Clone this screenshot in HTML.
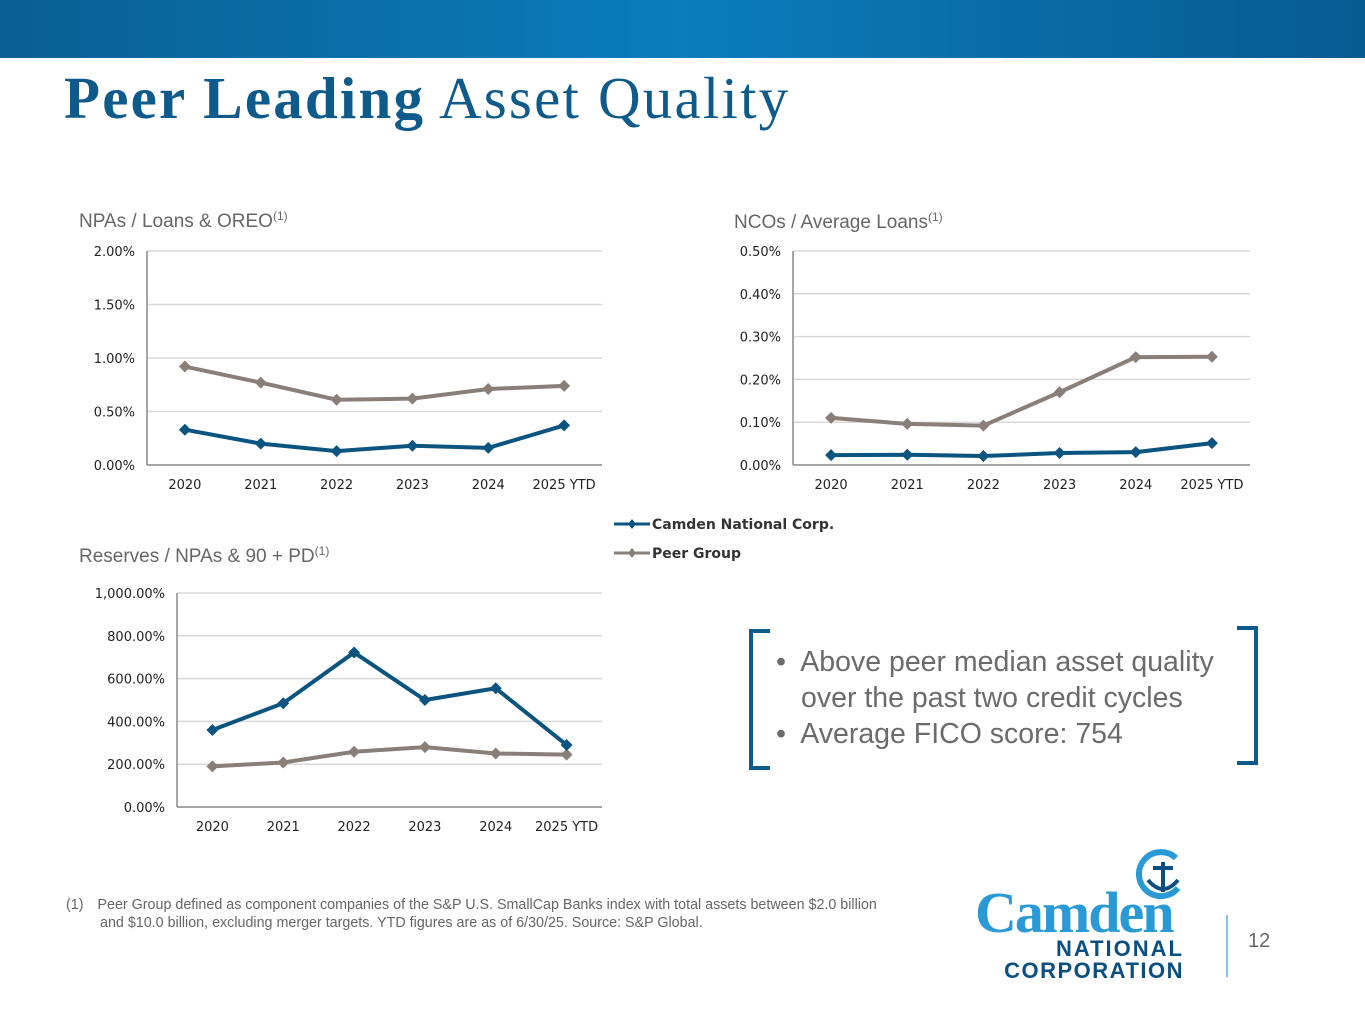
<!DOCTYPE html>
<html><head><meta charset="utf-8">
<style>
body{margin:0;width:1365px;height:1024px;overflow:hidden;background:#fff;font-family:"Liberation Sans",sans-serif;position:relative}
.hdr{position:absolute;left:0;top:0;width:1365px;height:58px;background:linear-gradient(90deg,#0a5f95 0%,#0a7dba 50%,#085a92 100%)}
.title{position:absolute;left:64px;top:64px;font-family:"Liberation Serif",serif;font-size:59px;color:#0e5a8a;white-space:nowrap;letter-spacing:2.2px}
.title b{font-weight:bold}
svg{position:absolute;left:0;top:0}
.bul{position:absolute;left:776px;top:644px;font-size:28.5px;color:#6b6b6b;line-height:36px;white-space:nowrap}
.foot{position:absolute;left:66px;top:896px;font-size:14.3px;color:#666;line-height:18px;white-space:nowrap}
.pg{position:absolute;left:1248px;top:930px;font-size:20px;color:#666}
</style></head><body>
<div class="hdr"></div>
<div class="title"><b>Peer Leading</b> Asset Quality</div>
<svg id="s" width="1365" height="1024"></svg>
<div class="bul">•&nbsp; Above peer median asset quality<br><span style="padding-left:25px">over the past two credit cycles</span><br>•&nbsp; Average FICO score: 754</div>
<div class="foot">(1)<span style="padding-left:14px">Peer Group defined as component companies of the S&amp;P U.S. SmallCap Banks index with total assets between $2.0 billion</span><br><span style="padding-left:34px">and $10.0 billion, excluding merger targets. YTD figures are as of 6/30/25. Source: S&amp;P Global.</span></div>
<div class="pg">12</div>
<script>
const categories=["2020","2021","2022","2023","2024","2025 YTD"];
const npaCamden=[0.33,0.20,0.13,0.18,0.16,0.37];
const npaPeer=[0.92,0.77,0.61,0.62,0.71,0.74];
const npaTicks=["0.00%","0.50%","1.00%","1.50%","2.00%"];
const ncoCamden=[0.023,0.024,0.021,0.028,0.030,0.051];
const ncoPeer=[0.11,0.096,0.092,0.17,0.252,0.253];
const ncoTicks=["0.00%","0.10%","0.20%","0.30%","0.40%","0.50%"];
const resCamden=[360,485,722,500,555,290];
const resPeer=[190,208,258,280,250,245];
const resTicks=["0.00%","200.00%","400.00%","600.00%","800.00%","1,000.00%"];
const NS="http://www.w3.org/2000/svg";
const svg=document.getElementById('s');
function mk(t,a,txt){const e=document.createElementNS(NS,t);for(const k in a)e.setAttribute(k,a[k]);if(txt!=null)e.textContent=txt;svg.appendChild(e);return e;}
function chart(nm,title,tx,ty,x0,x1,y0,y1,max,ticks,cam,peer){
 let t=mk('text',{x:tx,y:ty,'font-size':19,fill:'#666'},title);
 
 
 const ts=mk('tspan',{'font-size':12,dy:-7},'(1)');t.appendChild(ts);
 const yS=v=>y0-(v/max)*(y0-y1);
 const n=categories.length,step=(x1-x0)/n;
 const xS=i=>x0+step*(i+0.5);
 ticks.forEach((l,i)=>{const v=max*i/(ticks.length-1);const y=yS(v);
  if(i>0){const g=mk('line',{x1:x0,x2:x1,y1:y,y2:y,stroke:'#d9d9d9','stroke-width':1.5});
  
  }
  const tl=mk('text',{x:x0-12,y:y+5,'text-anchor':'end','font-size':13,fill:'#222','font-family':'DejaVu Sans, sans-serif'},l);
  
  });
 mk('line',{x1:x0,x2:x0,y1:y1,y2:y0,stroke:'#888','stroke-width':1.5});
 mk('line',{x1:x0,x2:x1,y1:y0,y2:y0,stroke:'#888','stroke-width':1.5});
 categories.forEach((c,i)=>{const l=mk('text',{x:xS(i),y:y0+24,'text-anchor':'middle','font-size':13,fill:'#222','font-family':'DejaVu Sans, sans-serif'},c);
  
  });
 [[peer,'#8a7f78','peer'],[cam,'#0b5480','camden']].forEach(([d,col,s])=>{
  const p=mk('polyline',{points:d.map((v,i)=>xS(i)+','+yS(v)).join(' '),fill:'none',stroke:col,'stroke-width':4});
  
  
  d.forEach((v,i)=>{const x=xS(i),y=yS(v);const m=mk('polygon',{points:`${x},${y-6} ${x+6},${y} ${x},${y+6} ${x-6},${y}`,fill:col});
   
   });
 });
}
chart('npa','NPAs / Loans & OREO',79,227,147,602,465,251,2,npaTicks,npaCamden,npaPeer);
chart('nco','NCOs / Average Loans',734,228,793,1250,465,251,0.5,ncoTicks,ncoCamden,ncoPeer);
chart('res','Reserves / NPAs & 90 + PD',79,562,177,602,807,593,1000,resTicks,resCamden,resPeer);
[['Camden National Corp.','#0b5480',524],['Peer Group','#8a7f78',553]].forEach(([l,c,y])=>{
 const ln=mk('line',{x1:614,x2:650,y1:y,y2:y,stroke:c,'stroke-width':3});
 
 
 mk('polygon',{points:`632,${y-5} 636,${y} 632,${y+5} 628,${y}`,fill:c});
 const t=mk('text',{x:652,y:y+5,'font-size':14,fill:'#333','font-weight':'bold','font-family':'DejaVu Sans, sans-serif'},l);
 
 
});
const b1=mk('path',{d:'M770,631 L751,631 L751,768 L770,768',fill:'none',stroke:'#0e5a8a','stroke-width':4});


const b2=mk('path',{d:'M1237,628 L1256,628 L1256,763 L1237,763',fill:'none',stroke:'#0e5a8a','stroke-width':4});


const lg=mk('text',{x:975,y:932,'font-size':58,fill:'#2a9ad6','font-family':'Liberation Serif, serif','font-weight':'bold','letter-spacing':-2},'Camden');


mk('text',{x:1184,y:956,'font-size':22,fill:'#0b4f80','text-anchor':'end','font-weight':'bold','letter-spacing':2},'NATIONAL');
mk('text',{x:1184,y:978,'font-size':22,fill:'#0b4f80','text-anchor':'end','font-weight':'bold','letter-spacing':1.5},'CORPORATION');
mk('path',{d:'M1176,858 A22,22 0 1 0 1178,888',fill:'none',stroke:'#2a9ad6','stroke-width':6});
mk('path',{d:'M1163,862 L1163,892 M1153,868 L1173,868 M1148,880 Q1163,898 1178,880',fill:'none',stroke:'#0b4f80','stroke-width':4});
mk('line',{x1:1227,x2:1227,y1:915,y2:977,stroke:'#5aaee0','stroke-width':1.5});
</script>
</body></html>
